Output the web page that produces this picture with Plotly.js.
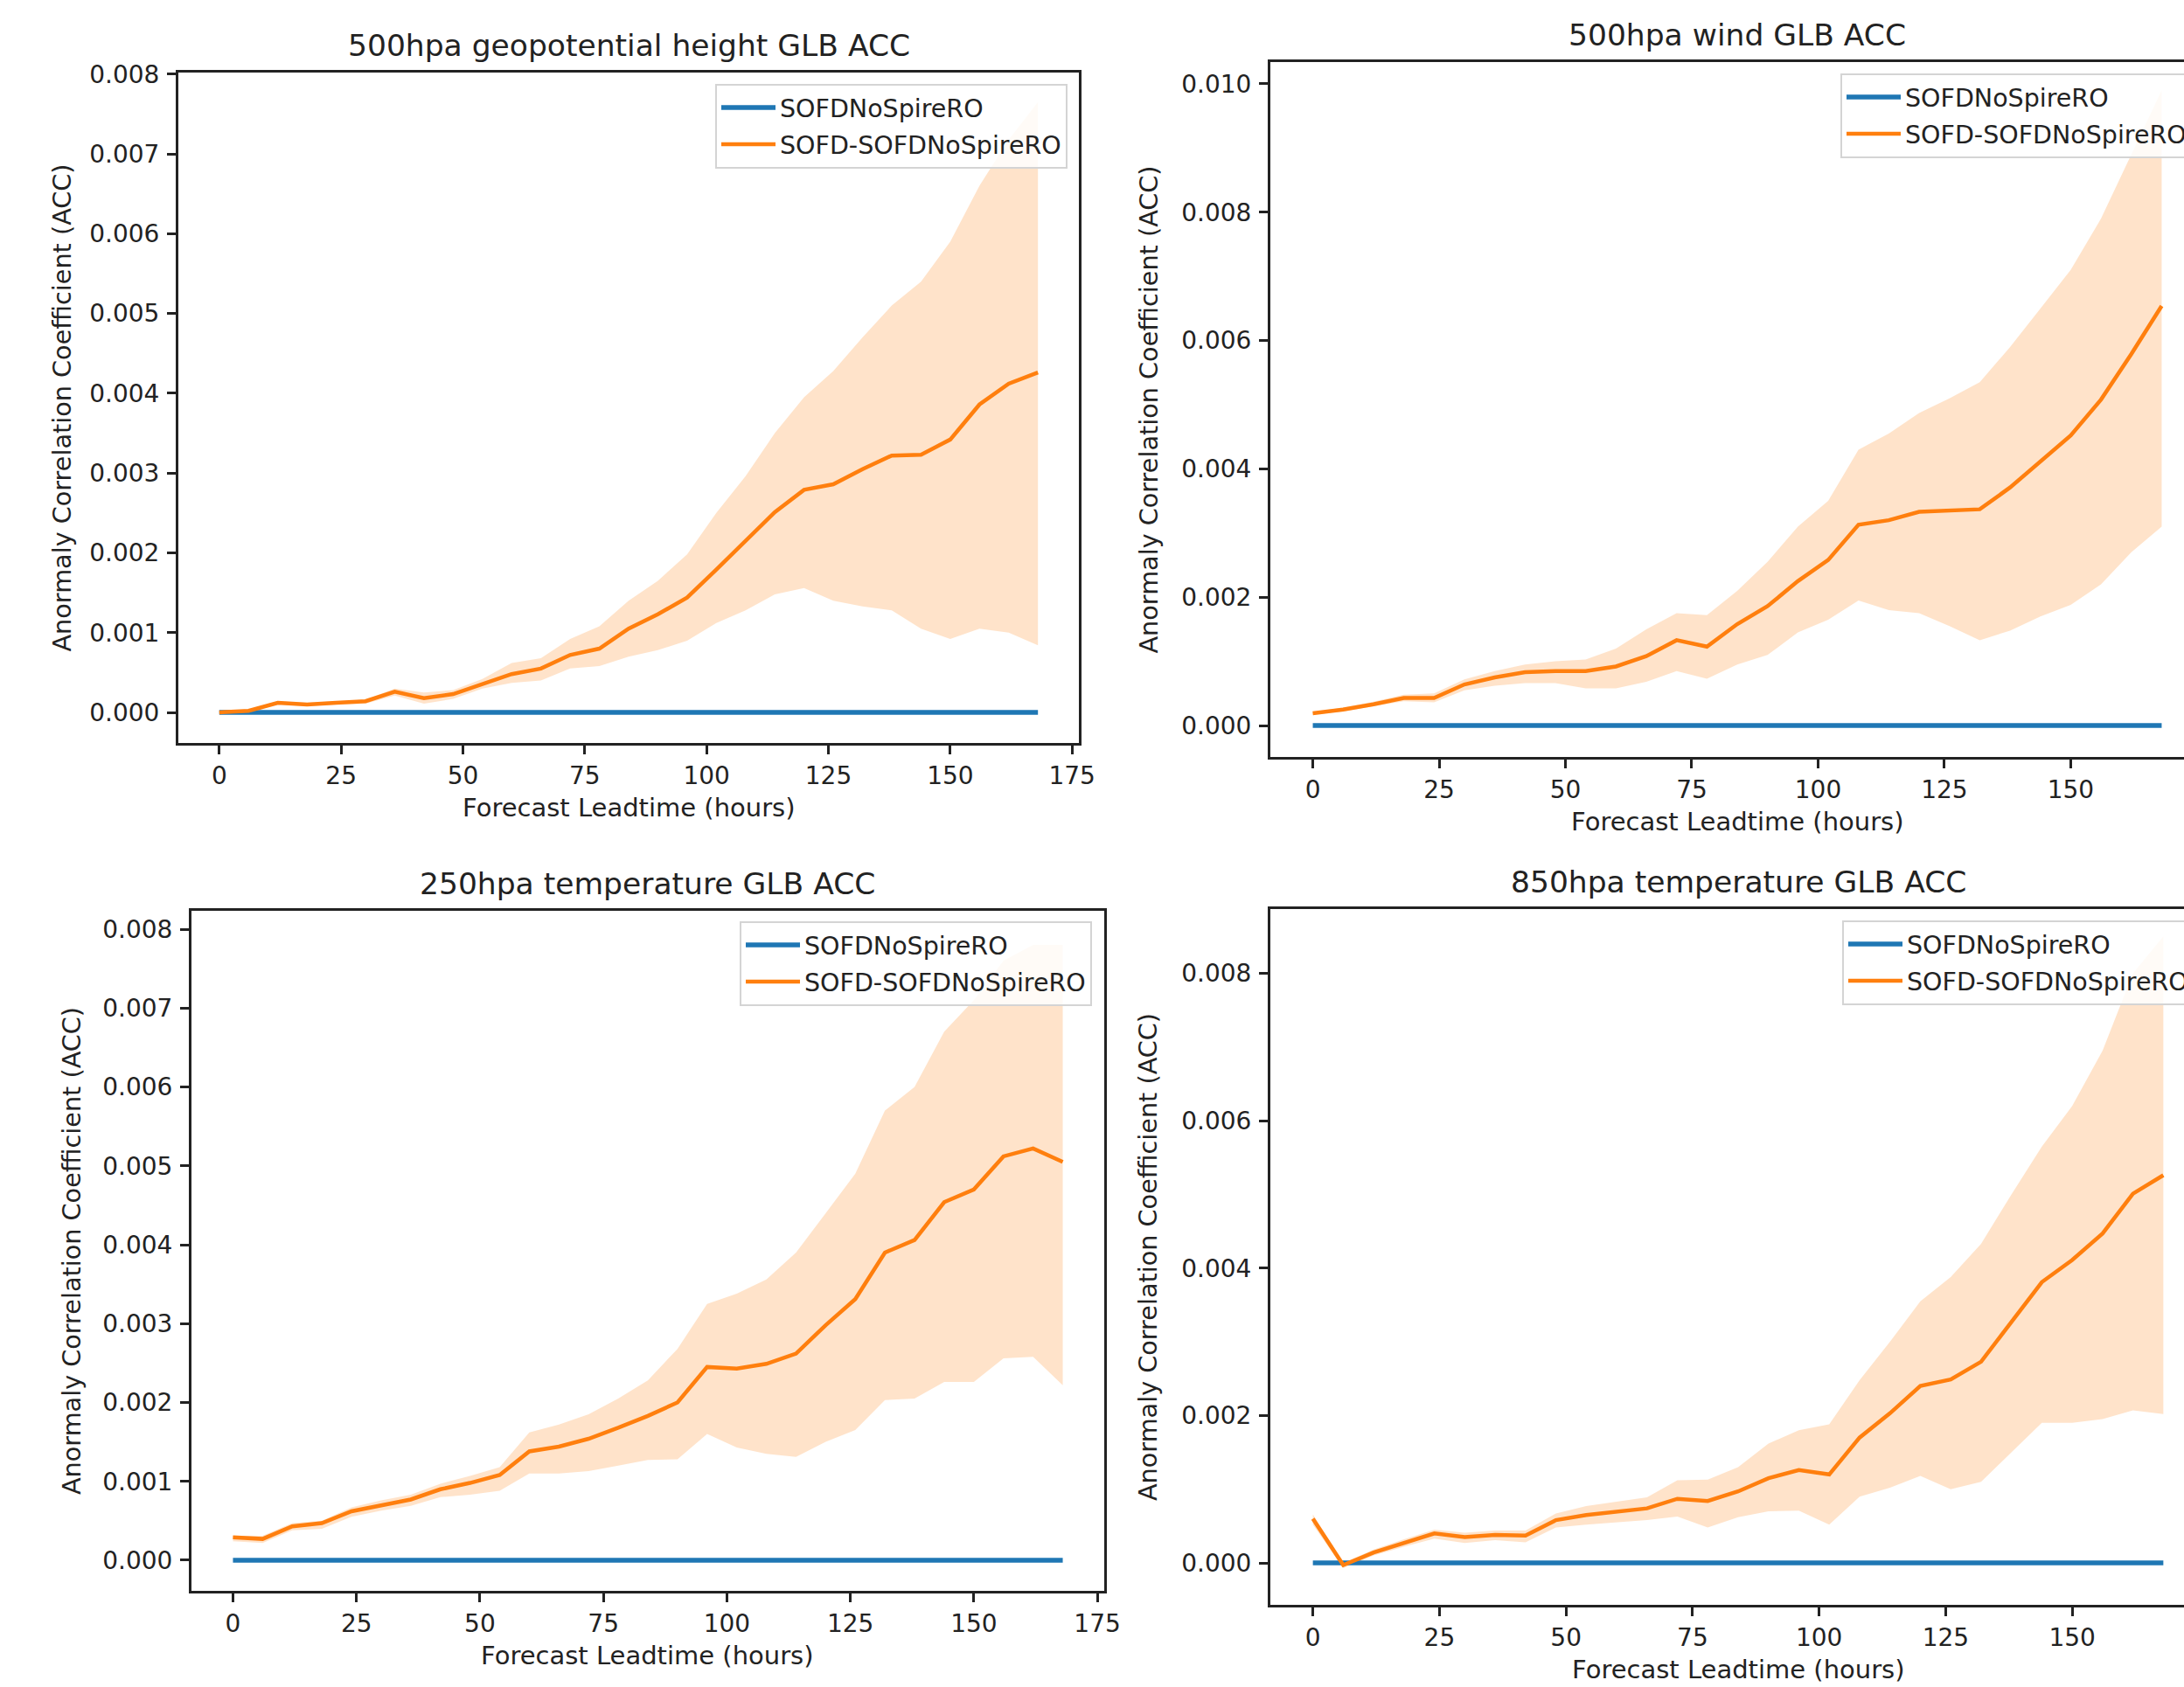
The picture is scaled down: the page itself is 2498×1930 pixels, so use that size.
<!DOCTYPE html>
<html>
<head>
<meta charset="utf-8">
<script src="https://cdn.plot.ly/plotly-3.0.1.min.js"></script>
<style>
  html, body { margin: 0; padding: 0; overflow: hidden; background: #fff; }
  #chart { width: 2530px; height: 1930px; }
</style>
</head>
<body>
<div id="chart"></div>
<script>
// ---------------- data ----------------
const leadtimes = [0, 6, 12, 18, 24, 30, 36, 42, 48, 54, 60, 66, 72, 78, 84, 90, 96, 102, 108, 114, 120, 126, 132, 138, 144, 150, 156, 162, 168];

const panelTitles = ["500hpa geopotential height GLB ACC", "500hpa wind GLB ACC", "250hpa temperature GLB ACC", "850hpa temperature GLB ACC"];
const seriesNames = ["SOFDNoSpireRO", "SOFD-SOFDNoSpireRO"];
const xAxisTitle = "Forecast Leadtime (hours)";
const yAxisTitle = "Anormaly Correlation Coefficient (ACC)";

// reference experiment minus itself
const baseline = [0, 0, 0, 0, 0, 0, 0, 0, 0, 0, 0, 0, 0, 0, 0, 0, 0, 0, 0, 0, 0, 0, 0, 0, 0, 0, 0, 0, 0];

// 500hpa geopotential height
const z500Mean  = [0.00000, 0.00002, 0.00012, 0.00010, 0.00012, 0.00014, 0.00026, 0.00018, 0.00023, 0.00035, 0.00048, 0.00055, 0.00072, 0.00080, 0.00105, 0.00123, 0.00144, 0.00179, 0.00215, 0.00251, 0.00279, 0.00286, 0.00305, 0.00322, 0.00323, 0.00342, 0.00386, 0.00412, 0.00426];
const z500Upper = [0.00002, 0.00004, 0.00014, 0.00012, 0.00014, 0.00016, 0.00030, 0.00025, 0.00028, 0.00042, 0.00062, 0.00068, 0.00092, 0.00108, 0.00140, 0.00165, 0.00198, 0.00250, 0.00296, 0.00350, 0.00395, 0.00428, 0.00470, 0.00510, 0.00540, 0.00590, 0.00660, 0.00718, 0.00765];
const z500Lower = [-0.00002, 0.00000, 0.00010, 0.00008, 0.00010, 0.00011, 0.00021, 0.00011, 0.00017, 0.00030, 0.00037, 0.00040, 0.00055, 0.00058, 0.00070, 0.00078, 0.00090, 0.00112, 0.00128, 0.00148, 0.00156, 0.00140, 0.00133, 0.00128, 0.00105, 0.00092, 0.00105, 0.00100, 0.00084];

// 500hpa wind
const w500Mean  = [0.00019, 0.00025, 0.00033, 0.00043, 0.00043, 0.00064, 0.00075, 0.00083, 0.00085, 0.00085, 0.00092, 0.00108, 0.00133, 0.00123, 0.00158, 0.00186, 0.00225, 0.00258, 0.00313, 0.00320, 0.00333, 0.00335, 0.00337, 0.00371, 0.00411, 0.00452, 0.00508, 0.00579, 0.00654];
const w500Upper = [0.00021, 0.00028, 0.00037, 0.00048, 0.00050, 0.00072, 0.00085, 0.00095, 0.00100, 0.00103, 0.00120, 0.00150, 0.00175, 0.00172, 0.00210, 0.00255, 0.00310, 0.00350, 0.00430, 0.00455, 0.00487, 0.00510, 0.00535, 0.00590, 0.00650, 0.00710, 0.00790, 0.00890, 0.00990];
const w500Lower = [0.00017, 0.00022, 0.00030, 0.00038, 0.00036, 0.00055, 0.00062, 0.00066, 0.00066, 0.00058, 0.00058, 0.00068, 0.00085, 0.00073, 0.00095, 0.00110, 0.00145, 0.00165, 0.00195, 0.00180, 0.00175, 0.00155, 0.00133, 0.00148, 0.00170, 0.00188, 0.00220, 0.00270, 0.00310];

// 250hpa temperature
const t250Mean  = [0.00029, 0.00027, 0.00043, 0.00047, 0.00062, 0.00070, 0.00077, 0.00090, 0.00098, 0.00108, 0.00138, 0.00144, 0.00154, 0.00168, 0.00183, 0.00200, 0.00245, 0.00243, 0.00249, 0.00262, 0.00298, 0.00331, 0.00390, 0.00406, 0.00454, 0.00470, 0.00512, 0.00522, 0.00505];
const t250Upper = [0.00031, 0.00031, 0.00047, 0.00050, 0.00067, 0.00076, 0.00083, 0.00097, 0.00107, 0.00118, 0.00162, 0.00172, 0.00185, 0.00205, 0.00228, 0.00268, 0.00325, 0.00338, 0.00356, 0.00390, 0.00440, 0.00490, 0.00570, 0.00600, 0.00670, 0.00710, 0.00760, 0.00780, 0.00780];
const t250Lower = [0.00024, 0.00022, 0.00038, 0.00040, 0.00055, 0.00063, 0.00069, 0.00080, 0.00083, 0.00088, 0.00110, 0.00110, 0.00113, 0.00120, 0.00127, 0.00128, 0.00160, 0.00143, 0.00135, 0.00131, 0.00150, 0.00165, 0.00203, 0.00205, 0.00226, 0.00226, 0.00256, 0.00258, 0.00222];

// 850hpa temperature
const t850Mean  = [0.00060, -0.00003, 0.00014, 0.00027, 0.00040, 0.00035, 0.00038, 0.00037, 0.00058, 0.00065, 0.00069, 0.00074, 0.00087, 0.00084, 0.00097, 0.00115, 0.00126, 0.00120, 0.00170, 0.00203, 0.00240, 0.00249, 0.00273, 0.00328, 0.00381, 0.00411, 0.00447, 0.00501, 0.00526];
const t850Upper = [0.00066, 0.00000, 0.00018, 0.00032, 0.00045, 0.00041, 0.00044, 0.00044, 0.00067, 0.00077, 0.00083, 0.00089, 0.00112, 0.00113, 0.00130, 0.00162, 0.00180, 0.00188, 0.00248, 0.00300, 0.00355, 0.00388, 0.00433, 0.00500, 0.00565, 0.00620, 0.00695, 0.00800, 0.00850];
const t850Lower = [0.00052, -0.00007, 0.00010, 0.00022, 0.00033, 0.00027, 0.00031, 0.00028, 0.00048, 0.00052, 0.00055, 0.00058, 0.00063, 0.00048, 0.00062, 0.00070, 0.00071, 0.00052, 0.00090, 0.00102, 0.00118, 0.00100, 0.00110, 0.00150, 0.00190, 0.00190, 0.00195, 0.00207, 0.00202];

// ---------------- styling / layout ----------------
const W = 2530, H = 1930;
const FONT = "DejaVu Sans";
const TXT = "#222222";
const BLUE = "#1f77b4", ORANGE = "#ff7f0e", FILL = "rgba(255,127,14,0.22)";
const px = v => v / W;
const py = v => 1 - v / H;

// pixel boxes of each axes: [left, right, top, bottom]
const boxes = [
  [204, 1234, 83, 850],
  [1453, 2521, 71, 866],
  [219, 1263, 1042, 1820],
  [1453, 2523, 1040, 1836]
];
const yRanges = [[-0.000383, 0.00802], [-0.00049, 0.01034], [-0.000388, 0.008233], [-0.000569, 0.008872]];
const yDticks = [0.001, 0.002, 0.001, 0.002];
const yTitleX = [70, 1313, 82, 1313];
const legendPos = [[1221, 96], [2508, 84], [1249, 1054], [2510, 1053]];

const means = [z500Mean, w500Mean, t250Mean, t850Mean];
const uppers = [z500Upper, w500Upper, t250Upper, t850Upper];
const lowers = [z500Lower, w500Lower, t250Lower, t850Lower];

const traces = [];
const layout = {
  width: W, height: H,
  margin: {l: 0, r: 0, t: 0, b: 0},
  paper_bgcolor: "#ffffff",
  plot_bgcolor: "#ffffff",
  font: {family: FONT, color: TXT},
  annotations: []
};

for (let i = 0; i < 4; i++) {
  const n = i === 0 ? "" : String(i + 1);
  const xa = "x" + n, ya = "y" + n;
  const lg = "legend" + n;
  const [L, R, T, B] = boxes[i];

  // confidence band as closed polygon
  traces.push({
    x: leadtimes.concat(leadtimes.slice().reverse()),
    y: uppers[i].concat(lowers[i].slice().reverse()),
    type: "scatter", mode: "lines",
    fill: "toself", fillcolor: FILL,
    line: {width: 0, color: "rgba(0,0,0,0)"},
    hoverinfo: "skip", showlegend: false,
    xaxis: xa, yaxis: ya, legend: lg
  });
  traces.push({
    x: leadtimes, y: baseline, name: seriesNames[0],
    type: "scatter", mode: "lines",
    line: {color: BLUE, width: 5.5},
    legendgroup: "g" + i + "a",
    xaxis: xa, yaxis: ya, legend: lg
  });
  traces.push({
    x: leadtimes, y: means[i], name: seriesNames[1],
    type: "scatter", mode: "lines",
    line: {color: ORANGE, width: 4.5},
    legendgroup: "g" + i + "b",
    xaxis: xa, yaxis: ya, legend: lg
  });

  const common = {
    ticks: "outside", ticklen: 10, tickwidth: 3, tickcolor: TXT,
    showline: true, linewidth: 3, linecolor: TXT, mirror: true,
    showgrid: false, zeroline: false,
    tickfont: {family: FONT, size: 28, color: TXT}
  };
  layout["xaxis" + n] = Object.assign({}, common, {
    domain: [px(L), px(R)], anchor: ya,
    range: [-8.4, 176.4], tick0: 0, dtick: 25
  });
  layout["yaxis" + n] = Object.assign({}, common, {
    domain: [py(B), py(T)], anchor: xa,
    range: yRanges[i], tick0: 0, dtick: yDticks[i], tickformat: ".3f",
    ticklabelstandoff: 3
  });
  layout[lg] = {
    x: px(legendPos[i][0]), y: py(legendPos[i][1]),
    xanchor: "right", yanchor: "top",
    bgcolor: "rgba(255,255,255,0.85)", bordercolor: "#d4d4d4", borderwidth: 2,
    font: {family: FONT, size: 28.5, color: TXT},
    traceorder: "grouped", tracegroupgap: 2,
    itemwidth: 62
  };

  // panel title
  layout.annotations.push({
    text: panelTitles[i], xref: "paper", yref: "paper",
    x: px((L + R) / 2), y: py(T - 31), xanchor: "center", yanchor: "middle",
    showarrow: false, font: {family: FONT, size: 34.5, color: TXT}
  });
  // x axis title
  layout.annotations.push({
    text: xAxisTitle, xref: "paper", yref: "paper",
    x: px((L + R) / 2), y: py(B + 74), xanchor: "center", yanchor: "middle",
    showarrow: false, font: {family: FONT, size: 29, color: TXT}
  });
  // y axis title
  layout.annotations.push({
    text: yAxisTitle, xref: "paper", yref: "paper", textangle: -90,
    x: px(yTitleX[i]), y: py((T + B) / 2), xanchor: "center", yanchor: "middle",
    showarrow: false, font: {family: FONT, size: 28.7, color: TXT}
  });
}

Plotly.newPlot("chart", traces, layout, {staticPlot: true, displayModeBar: false});
</script>
</body>
</html>
